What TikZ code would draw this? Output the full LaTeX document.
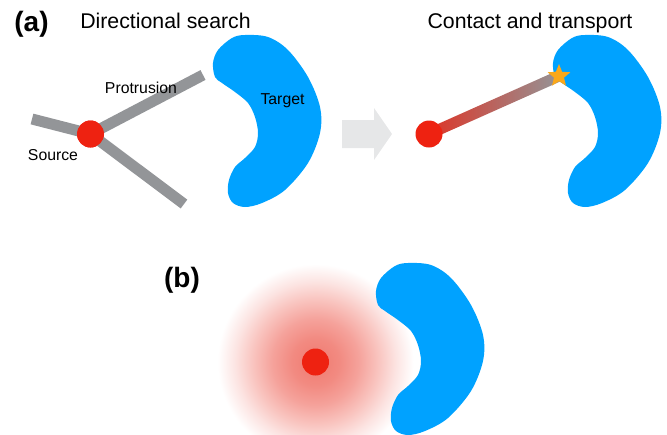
\documentclass[tikz,border=0pt]{standalone}
\usepackage{fontspec}
\setmainfont{Liberation Sans}
\usetikzlibrary{shapes.geometric}
\definecolor{kblue}{RGB}{0,162,255}
\definecolor{sred}{RGB}{238,34,17}
\definecolor{barred}{RGB}{222,52,38}
\definecolor{pgray}{RGB}{147,149,152}
\definecolor{agray}{RGB}{230,231,232}
\definecolor{sorange}{RGB}{250,168,26}
\definecolor{glA}{RGB}{240,122,112}
\definecolor{glB}{RGB}{242,138,129}
\definecolor{glC}{RGB}{245,162,155}
\definecolor{glD}{RGB}{249,196,191}
\definecolor{glE}{RGB}{252,228,226}
\pgfdeclareradialshading{glow}{\pgfpointorigin}{color(0bp)=(glA); color(6bp)=(glB); color(11bp)=(glC); color(16bp)=(glD); color(20.5bp)=(glE); color(25bp)=(white); color(50bp)=(white)}
\tikzset{
  kidney/.pic={\fill[kblue] plot[smooth cycle, tension=0.55] coordinates {
      (245,35) (268,37) (288,50) (308,77) (320,107) (320,133) (308,163)
      (285,190) (262,203) (245,207) (233,203) (228,193) (229,180) (235,167)
      (245,158) (255,147) (258,133) (255,117) (248,103) (235,92) (222,83)
      (215,77) (213,63) (218,50) (232,38)};},
  src/.style={circle, fill=sred, minimum size=27pt, inner sep=0pt},
  arm/.style={draw=pgray, line width=11pt},
  title/.style={font=\fontsize{21.3}{24}\selectfont, anchor=base},
  lbl/.style={font=\fontsize{15.8}{18}\selectfont, anchor=base},
  panel/.style={font=\fontsize{28}{32}\selectfont\bfseries, anchor=base},
}
\begin{document}
\begin{tikzpicture}[x=1pt, y=-1pt]
\useasboundingbox (0,0) rectangle (667,434);
% ---- panel (a), left
\pic at (0,0) {kidney};
\coordinate (e1) at (203,75);
\coordinate (e2) at (32,119);
\coordinate (e3) at (184,204);
\node[src] (s1) at (90.5,134) {};
\draw[arm] (s1.center) -- (e1);
\draw[arm] (s1.center) -- (e2);
\draw[arm] (s1.center) -- (e3);
\node[src] at (s1) {};
\node[title] (t1) at (165.5,28) {Directional search};
\node[panel] (pa) at (31.5,31) {(a)};
\node[lbl] (lp) at (141,93) {Protrusion};
\node[lbl] (ls) at (53,160) {Source};
\node[lbl] (lt) at (282.5,104.5) {Target};
% ---- arrow
\fill[agray] (342,120) -- (374,120) -- (374,108) -- (392,134) -- (374,160) -- (374,148) -- (342,148) -- cycle;
% ---- panel (a), right
\pic at (340,0) {kidney};
\node[title] (t2) at (530,28) {Contact and transport};
\coordinate (s2c) at (429,134);
\begin{scope}[shift={(s2c)}, rotate=24.04]
  \shade[left color=barred, right color=pgray] (0,-5.5) rectangle (142.4,5.5);
\end{scope}
\node[src] (s2) at (s2c) {};
\node[star, star points=5, star point ratio=2.3, fill=sorange, minimum size=24pt, inner sep=0pt] (st) at (559,76) {};
% ---- panel (b)
\shade[shading=glow] (315.5,362) circle (98);
\pic at (163,228) {kidney};
\node[src] (s3) at (315.5,362) {};
\node[panel] (pb) at (182,287) {(b)};
\end{tikzpicture}
\end{document}
